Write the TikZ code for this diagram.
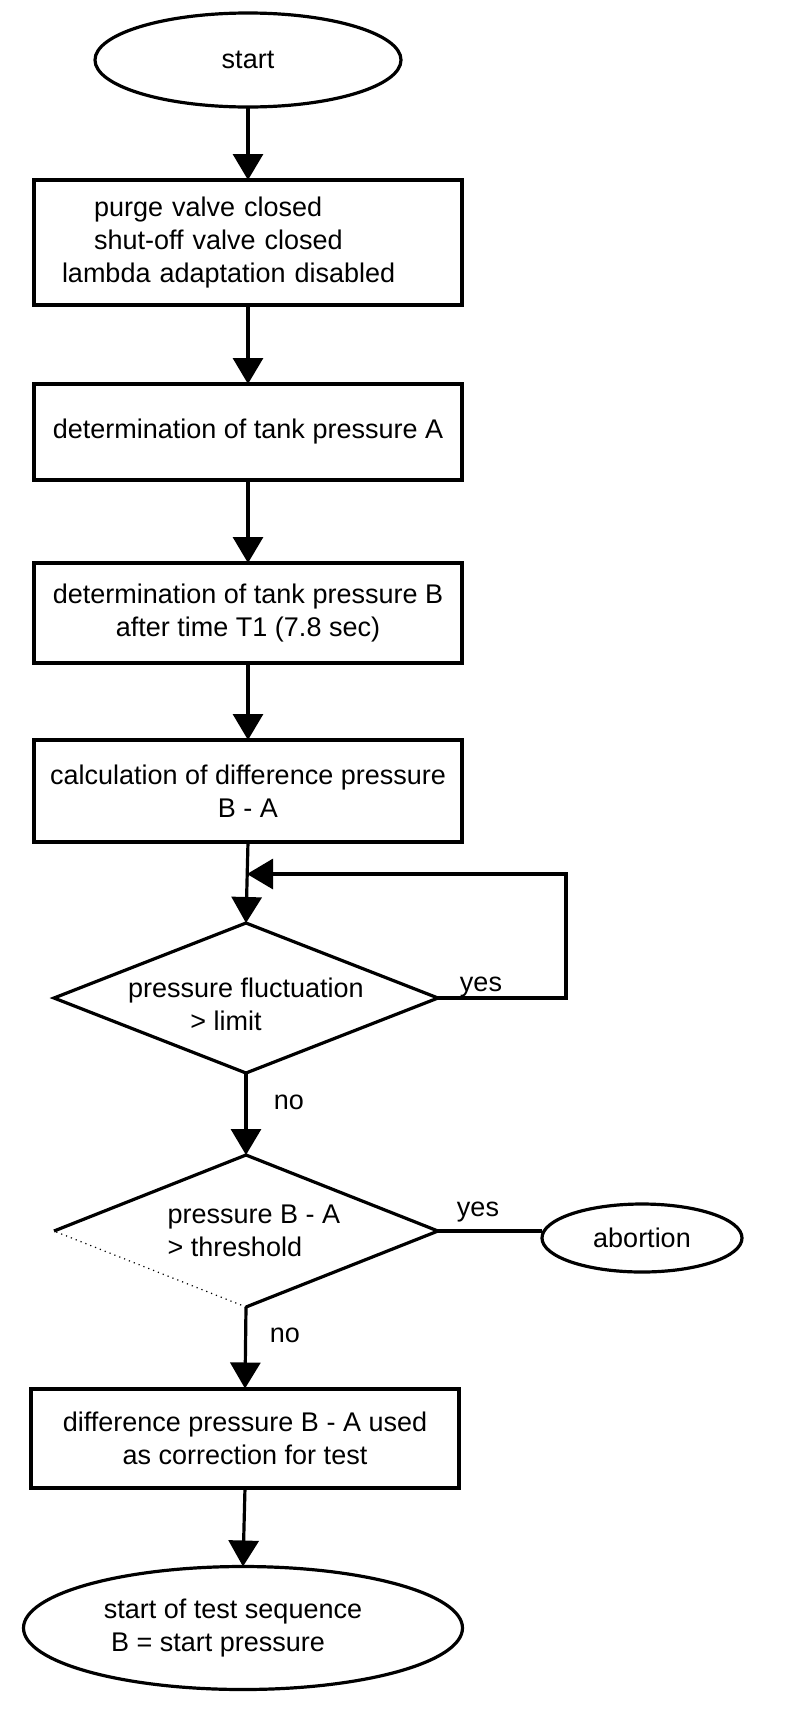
\documentclass[tikz,border=0pt]{standalone}
\usepackage{fontspec}
\setmainfont{Liberation Sans}
\usetikzlibrary{shapes.geometric, arrows.meta}
\begin{document}
\begin{tikzpicture}[x=0.5pt, y=-0.5pt,
  every node/.style={font=\fontsize{13.5pt}{16.5pt}\selectfont, inner sep=0pt, outer sep=0pt},
  procbox/.style={draw, line width=2pt, rectangle, minimum width=214pt, align=center},
  oval/.style={draw, line width=1.6pt, ellipse, align=center},
  dia/.style={diamond, minimum width=192pt, minimum height=75pt},
  arr/.style={line width=1.6pt, -{Triangle[length=13pt, width=15pt]}},
  conn/.style={line width=1.6pt},
  lbl/.style={align=center},
  edge/.style={line width=1.6pt, line join=miter}
]
\fill[white] (0,0) rectangle (800,1730);
\useasboundingbox (0,0) rectangle (800,1730);

% nodes
\node[oval, minimum width=153pt, minimum height=47pt] (s) at (248,60) {start};
\node[procbox, minimum height=62.5pt, text width=186pt, inner xsep=14pt, align=left] (b1) at (248,242.5)
  {\hspace*{16pt}purge valve closed\\\hspace*{16pt}shut-off valve closed\\lambda adaptation disabled};
\node[procbox, minimum height=48pt] (b2) at (248,432) {determination of tank pressure A};
\node[procbox, minimum height=50pt] (b3) at (248,613) {determination of tank pressure B\\after time T1 (7.8 sec)};
\node[procbox, minimum height=51pt] (b4) at (248,791) {calculation of difference pressure\\B - A};
\node[dia, draw, line width=1.6pt, label={[lbl, yshift=-3pt]center:{pressure fluctuation\\\hspace*{-20pt}> limit}}] (d1) at (246,998) {};
\node[dia, minimum height=76pt, label={[lbl, align=left, xshift=4pt]center:{pressure B - A\\> threshold}}] (d2) at (246,1231) {};
\node[oval, minimum width=100pt, minimum height=34pt] (ab) at (642,1238) {abortion};
\node[procbox, minimum height=49.5pt] (b5) at (245,1438) {difference pressure B - A used\\as correction for test};
\node[oval, minimum width=219.5pt, minimum height=61.5pt, label={[lbl, xshift=-5pt]center:{start of test sequence\\\hspace*{-15pt}B = start pressure}}] (e) at (243,1628) {};

% diamond 2 outline (lower-left edge faint in the original)
\draw[edge] (d2.west) -- (d2.north) -- (d2.east) -- (d2.south);
\draw[line width=0.6pt, dotted] (d2.south) -- (d2.west);

% labels
\node (y1) at (481,987) {yes};
\node (n1) at (289,1102) {no};
\node (y2) at (478,1212) {yes};
\node (n2) at (285,1335) {no};

% connectors
\draw[arr] (s.south) -- (b1.north);
\draw[arr] (b1.south) -- (b2.north);
\draw[arr] (b2.south) -- (b3.north);
\draw[arr] (b3.south) -- (b4.north);
\draw[arr] (b4.south) -- (d1.north);
\coordinate (lc) at (566,874);
\coordinate (lp) at (247,874);
\draw[arr] (d1.east) -| (lc) -- (lp);
\draw[arr] (d1.south) -- (d2.north);
\draw[conn] (d2.east) -- (d2.east -| ab.west);
\draw[arr] (d2.south) -- (b5.north);
\draw[arr] (b5.south) -- (e.north);
\end{tikzpicture}
\end{document}
